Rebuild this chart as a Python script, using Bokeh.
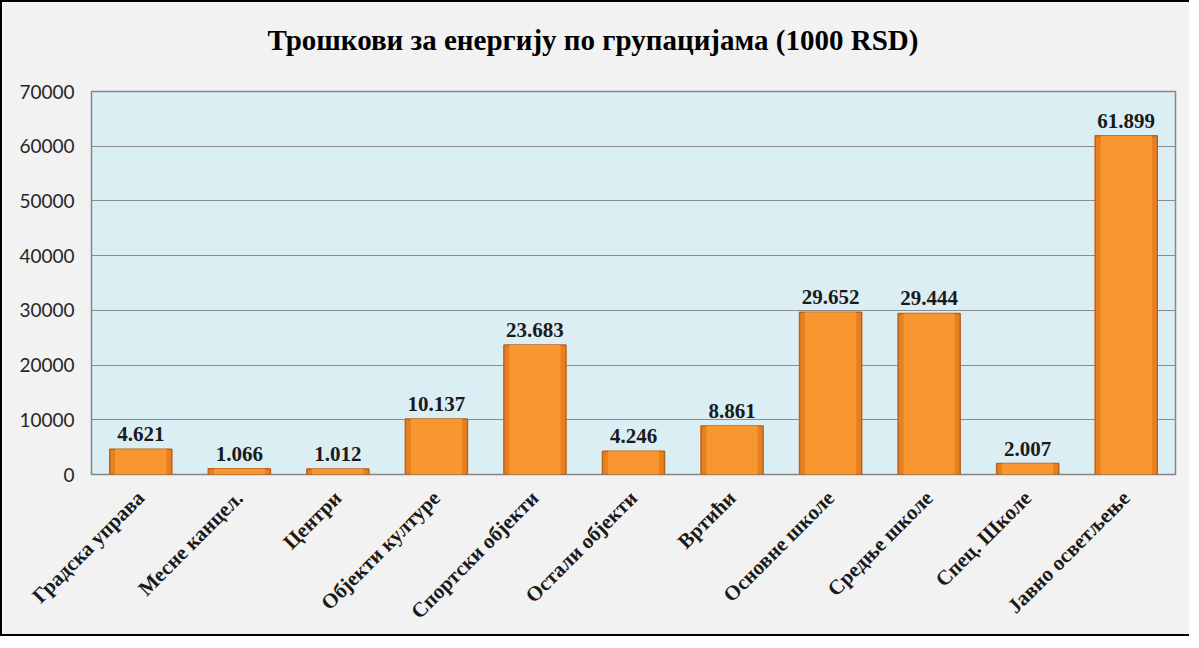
import math
from bokeh.plotting import figure
from bokeh.models import ColumnDataSource, FactorRange, Range1d, SingleIntervalTicker, LabelSet, Title
from bokeh.embed import file_html
from bokeh.resources import INLINE

categories = ["Градска управа", "Месне канцел.", "Центри", "Објекти културе",
              "Спортски објекти", "Остали објекти", "Вртићи", "Основне школе",
              "Средње школе", "Спец. Школе", "Јавно осветљење"]
values = [4621, 1066, 1012, 10137, 23683, 4246, 8861, 29652, 29444, 2007, 61899]
value_labels = ["4.621", "1.066", "1.012", "10.137", "23.683", "4.246",
                "8.861", "29.652", "29.444", "2.007", "61.899"]
title_text = "Трошкови за енергију по групацијама (1000 RSD)"

src = ColumnDataSource(dict(cat=categories, val=values, lab=value_labels))

p = figure(x_range=FactorRange(*categories, range_padding=0),
           y_range=Range1d(0, 70000),
           width=1189, height=636,
           min_border_left=89, min_border_top=89, min_border_right=16, min_border_bottom=164,
           output_backend="svg", toolbar_location=None)
p.styles = {"border-left": "2px solid #000", "border-top": "2px solid #000",
            "border-bottom": "2px solid #000"}

p.background_fill_color = "#dbeef4"
p.border_fill_color = "#f2f2f2"
p.outline_line_color = "#868686"
p.outline_line_width = 1.5

# spacer between frame and title (closest to the frame)
p.add_layout(Title(text=" ", text_font_size="1px", standoff=33, text_color="#f2f2f2"), "above")
p.add_layout(Title(text=title_text, text_font="Liberation Serif", text_font_style="bold",
                   text_font_size="29px", text_color="#000000", align="left",
                   offset=176, standoff=0), "above")

p.vbar(x="cat", top="val", width=0.63, source=src,
       fill_color="#e8801f", line_color="#b8621c", line_width=1.5)
p.vbar(x="cat", top="val", width=0.52, source=src,
       fill_color="#f8962f", line_color=None)

labels = LabelSet(x="cat", y="val", text="lab", source=src, text_align="center",
                  text_baseline="bottom", y_offset=8, text_font="Liberation Serif",
                  text_font_style="bold", text_font_size="21px", text_color="#1a1a1a")
p.add_layout(labels)

p.xgrid.grid_line_color = None
p.ygrid.grid_line_color = "#8c8c8c"
p.ygrid.grid_line_width = 1.2
p.yaxis.ticker = SingleIntervalTicker(interval=10000)

p.yaxis.axis_line_color = None
p.yaxis.major_tick_line_color = None
p.yaxis.minor_tick_line_color = None
p.yaxis.major_label_text_font = "Lato"
p.yaxis.major_label_text_font_size = "19px"
p.yaxis.major_label_text_color = "#262626"
p.yaxis.major_label_standoff = 11

p.xaxis.axis_line_color = None
p.xaxis.major_tick_line_color = None
p.xaxis.minor_tick_line_color = None
p.xaxis.major_label_orientation = math.pi / 4
p.xaxis.major_label_text_font = "Liberation Serif"
p.xaxis.major_label_text_font_style = "bold"
p.xaxis.major_label_text_font_size = "21px"
p.xaxis.major_label_text_color = "#1a1a1a"
p.xaxis.major_label_standoff = 14

open("out.html", "w").write(file_html(p, INLINE))
